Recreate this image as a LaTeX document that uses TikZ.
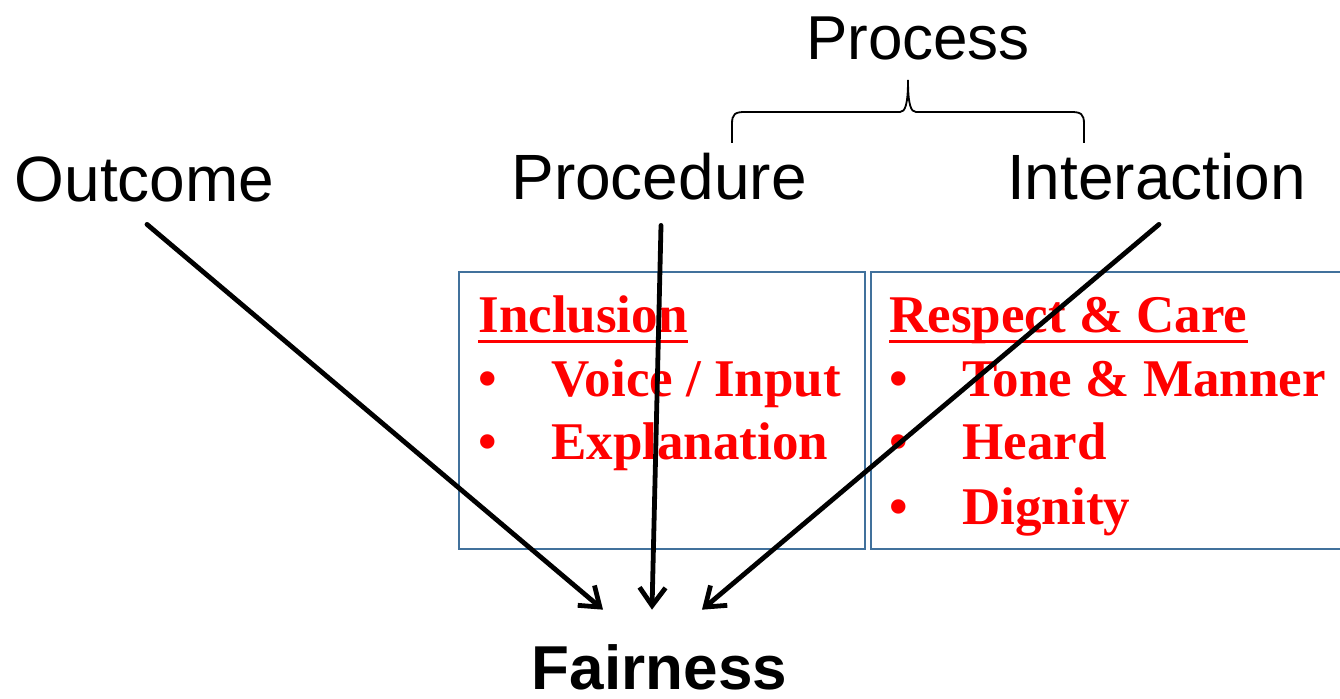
\documentclass[tikz,border=0pt]{standalone}
\usepackage{fontspec}
\setmainfont{Liberation Serif}
\setsansfont{Liberation Sans}
\usetikzlibrary{arrows.meta}
\definecolor{fairred}{HTML}{FF0000}
\definecolor{boxblue}{HTML}{41719C}

\begin{document}
\begin{tikzpicture}[
  x=0.5pt,
  y=-0.5pt,
  heading/.style={font=\sffamily\fontsize{32}{38}\selectfont, anchor=base,
                  inner sep=0pt, text depth=0pt},
  item/.style={font=\bfseries\fontsize{26.5}{32}\selectfont, fairred,
               anchor=base west, inner sep=0pt},
  bullet/.style={item, anchor=base},
  title/.style={item, text depth=0pt},
  uline/.style={fairred, line width=1.6pt},
  panel/.style={boxblue, line width=0.8pt},
  brace/.style={black, line width=0.9pt},
  arrow/.style={black, line width=2.4pt, line cap=round, line join=round,
                -{Straight Barb[length=9pt, width=13pt]}}
]

  %% ---- page size ------------------------------------------------------
  \useasboundingbox (0,0) rectangle (1340,699);
  \clip (0,0) rectangle (1340,699);

  %% ---- the four headings and the result -------------------------------
  \node[heading, font=\sffamily\fontsize{31}{37}\selectfont]
    (process) at (918,60) {Process};
  \node[heading] (outcome)     at (144.5,202) {Outcome};
  \node[heading] (procedure)   at (659,200)   {Procedure};
  \node[heading] (interaction) at (1156.5,200) {Interaction};
  \node[heading, font=\sffamily\bfseries\fontsize{31}{37}\selectfont]
    (fairness) at (659.5,690) {Fairness};

  %% ---- brace under Process --------------------------------------------
  \draw[brace] (732,143) -- (732,124)
    .. controls (732,114) and (735,112) .. (745,112) -- (900,112)
    .. controls (905,112) and (908,105) .. (908,80)
    .. controls (908,105) and (911,112) .. (916,112) -- (1071,112)
    .. controls (1081,112) and (1084,114) .. (1084,124) -- (1084,143);

  %% ---- the two boxes (right one runs off the page) ---------------------
  \draw[panel] (459,272) rectangle (865,549);
  \draw[panel] (1345,272) -- (871,272) -- (871,549) -- (1345,549);

  % left box: Inclusion
  \node[title] (inclusion) at (478,333) {Inclusion};
  \draw[uline] ([yshift=-4pt]inclusion.south west)
            -- ([yshift=-4pt]inclusion.south east);
  \foreach \txt/\y/\nm in {{Voice / Input}/397/voice, Explanation/460/explain} {
    \node[bullet] (\nm-dot) at (488,\y) {•};
    \node[item] (\nm) at (551,\y) {\txt};
  }

  % right box: Respect & Care
  \node[title] (respect) at (889,333) {Respect \& Care};
  \draw[uline] ([yshift=-4pt]respect.south west)
            -- ([yshift=-4pt]respect.south east);
  \foreach \txt/\y/\nm in {{Tone \& Manner}/397/tone, Heard/460/heard,
                           Dignity/525/dignity} {
    \node[bullet] (\nm-dot) at (899,\y) {•};
    \node[item] (\nm) at (962,\y) {\txt};
  }

  %% ---- arrows into Fairness -------------------------------------------
  \draw[arrow] ([xshift=1.25pt, yshift=-11pt]outcome.south)
            -- ([xshift=-28.25pt, yshift=17.5pt]fairness.north);
  \draw[arrow] ([xshift=1pt, yshift=-12.5pt]procedure.south)
            -- ([xshift=-3.75pt, yshift=17.5pt]fairness.north);
  \draw[arrow] ([xshift=1.25pt, yshift=-12pt]interaction.south)
            -- ([xshift=21.25pt, yshift=17.5pt]fairness.north);

\end{tikzpicture}
\end{document}
